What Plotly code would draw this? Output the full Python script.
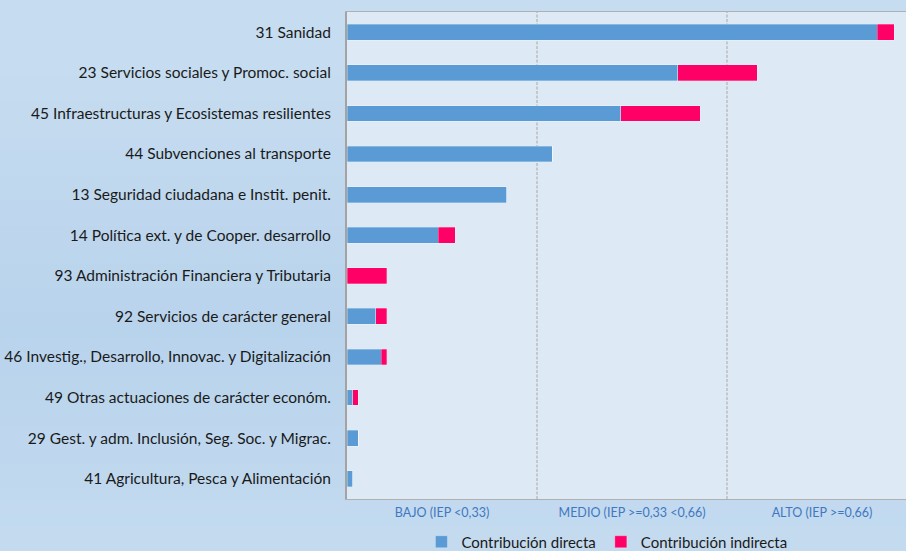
import plotly.graph_objects as go

# ---- data (top to bottom) ----
categories = [
    "31 Sanidad",
    "23 Servicios sociales y Promoc. social",
    "45 Infraestructuras y Ecosistemas resilientes",
    "44 Subvenciones al transporte",
    "13 Seguridad ciudadana e Instit. penit.",
    "14 Política ext. y de Cooper. desarrollo",
    "93 Administración Financiera y Tributaria",
    "92 Servicios de carácter general",
    "46 Investig., Desarrollo, Innovac. y Digitalización",
    "49 Otras actuaciones de carácter económ.",
    "29 Gest. y adm. Inclusión, Seg. Soc. y Migrac.",
    "41 Agricultura, Pesca y Alimentación",
]
directa = [0.93, 0.58, 0.48, 0.36, 0.28, 0.16, 0.0, 0.05, 0.06, 0.01, 0.02, 0.01]
indirecta = [0.03, 0.14, 0.14, 0.0, 0.0, 0.03, 0.07, 0.02, 0.01, 0.01, 0.0, 0.0]

level_ticks = [1/6, 1/2, 5/6]
level_labels = ["BAJO (IEP <0,33)", "MEDIO (IEP >=0,33 <0,66)", "ALTO (IEP >=0,66)"]
level_bounds = [1/3, 2/3]

BLUE = "#5b9bd5"
PINK = "#ff0066"
FONT = "Lato"

W, H = 906, 551
ML, MR, MT, MB = 347, 0, 12, 52
PW, PH = W - ML - MR, H - MT - MB
UNIT_PX = 570.0  # pixels per unit on x

fig = go.Figure()
fig.add_trace(go.Bar(
    y=categories, x=directa, orientation="h", name="Contribución directa",
    marker=dict(color=BLUE, line=dict(color="rgba(255,255,255,0.35)", width=0.8)),
))
fig.add_trace(go.Bar(
    y=categories, x=indirecta, orientation="h", name="Contribución indirecta",
    marker=dict(color=PINK, line=dict(color="rgba(255,255,255,0.35)", width=0.8)),
))

# ---- background gradient (paper-referenced bands) ----
def lerp(c1, c2, t):
    return tuple(round(a + (b - a) * t) for a, b in zip(c1, c2))

edge = (0xc6, 0xdc, 0xf0)
mid = (0xb8, 0xd3, 0xec)
shapes = []
N = 44
for i in range(N):
    py0 = H * i / N
    py1 = H * (i + 1) / N + 1
    pc = (py0 + py1) / 2
    t = max(0.0, 1 - abs(pc - 330) / 260)
    c = lerp(edge, mid, t)
    shapes.append(dict(
        type="rect", xref="paper", yref="paper", layer="below",
        x0=-1.0, x1=1.2,
        y0=1 - (py1 - MT) / PH, y1=1 - (py0 - MT) / PH,
        fillcolor="rgb(%d,%d,%d)" % c, line=dict(width=0),
    ))
# plot area
shapes.append(dict(
    type="rect", xref="x domain", yref="y domain", layer="below",
    x0=0, x1=1, y0=0, y1=1, fillcolor="#dde9f5", line=dict(width=0),
))
for b in level_bounds:
    shapes.append(dict(
        type="line", xref="x", yref="y domain", layer="below",
        x0=b, x1=b, y0=0, y1=1,
        line=dict(color="#bdbdbd", width=1.5, dash="3px,1.5px"),
    ))

fig.update_layout(
    width=W, height=H,
    margin=dict(l=ML, r=MR, t=MT, b=MB, pad=0),
    barmode="stack",
    bargap=0.61,
    paper_bgcolor="#c2d9ee",
    plot_bgcolor="rgba(0,0,0,0)",
    shapes=shapes,
    font=dict(family=FONT, color="#1a1a1a"),
    showlegend=True,
    legend=dict(
        orientation="h", x=0.465, xanchor="center",
        yref="container", y=(H - 542) / H, yanchor="middle",
        font=dict(family=FONT, size=15, color="#1a1a1a"),
        bgcolor="rgba(0,0,0,0)", itemwidth=30, traceorder="normal",
    ),
    xaxis=dict(
        range=[0, PW / UNIT_PX],
        tickvals=level_ticks, ticktext=level_labels,
        tickfont=dict(family=FONT, size=12.5, color="#3f78bf"),
        showgrid=False, zeroline=False,
        showline=True, linecolor="#b0b0b0", linewidth=1.2, mirror=True,
        ticks="", ticklabelstandoff=2, fixedrange=True, automargin=False,
    ),
    yaxis=dict(
        categoryorder="array", categoryarray=categories, autorange="reversed",
        tickfont=dict(family=FONT, size=15.5, color="#1a1a1a"),
        showgrid=False, zeroline=False,
        showline=True, linecolor="#a3a3a3", linewidth=2,
        ticks="", ticklabelstandoff=11, automargin=False, fixedrange=True,
    ),
)

fig.write_html(
    "out.html",
    config={"displayModeBar": False},
    post_script="document.body.style.margin='0';document.body.style.overflow='hidden';",
)
